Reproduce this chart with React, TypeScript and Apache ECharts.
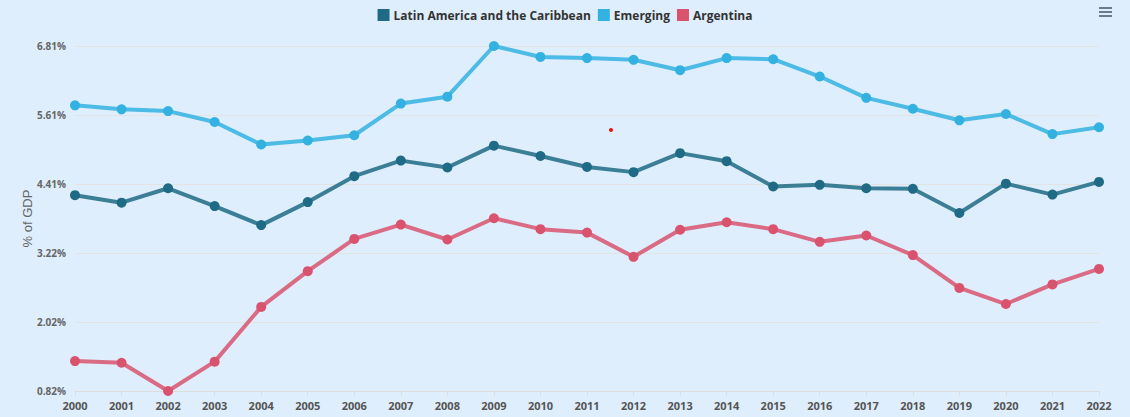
import React, { useEffect, useRef } from "react";
import * as echarts from "echarts";

const years = ["2000","2001","2002","2003","2004","2005","2006","2007","2008","2009","2010","2011","2012","2013","2014","2015","2016","2017","2018","2019","2020","2021","2022"];
const latam = [4.22,4.09,4.34,4.03,3.70,4.10,4.55,4.82,4.70,5.08,4.90,4.71,4.62,4.95,4.81,4.37,4.40,4.34,4.33,3.91,4.42,4.23,4.45];
const emerging = [5.78,5.71,5.68,5.49,5.10,5.17,5.26,5.81,5.93,6.81,6.62,6.60,6.57,6.39,6.60,6.58,6.28,5.91,5.72,5.52,5.63,5.28,5.40];
const argentina = [1.34,1.31,0.82,1.33,2.28,2.90,3.46,3.71,3.45,3.82,3.63,3.57,3.15,3.62,3.75,3.63,3.41,3.52,3.18,2.61,2.33,2.67,2.94];
const yMin = 0.82;
const yMax = 6.81;
const seriesNames = ["Latin America and the Caribbean", "Emerging", "Argentina"];
const colors = ["#1f6b85", "#33b1e0", "#d9536e"];

export default function App() {
  const ref = useRef<HTMLDivElement>(null);
  useEffect(() => {
    if (!ref.current) return;
    const chart = echarts.init(ref.current, null, { renderer: "svg" });
    const datasets = [latam, emerging, argentina];
    chart.setOption({
      animation: false,
      backgroundColor: "#dfeefc",
      legend: {
        top: 4,
        left: "center",
        itemWidth: 12,
        itemHeight: 12,
        itemGap: 7,
        icon: "rect",
        textStyle: { fontFamily: "Open Sans", fontWeight: "bold", fontSize: 12, color: "#333", padding: [0, 0, 0, -1] },
        data: seriesNames,
      },
      grid: { left: 75, right: 31, top: 46, bottom: 26 },
      xAxis: {
        type: "category",
        data: years,
        boundaryGap: false,
        axisLine: { lineStyle: { color: "#dddddd" } },
        axisTick: { show: true, length: 5, lineStyle: { color: "#dddddd" } },
        axisLabel: { fontFamily: "Open Sans", fontWeight: "bold", fontSize: 11, color: "#555", margin: 9, interval: 0 },
      },
      yAxis: {
        type: "value",
        min: yMin,
        max: yMax,
        interval: (yMax - yMin) / 5,
        name: "% of GDP",
        nameLocation: "middle",
        nameGap: 41,
        nameMoveOverlap: false,
        nameTextStyle: { fontFamily: "Liberation Sans", fontSize: 13, color: "#666" },
        axisLine: { show: false },
        axisTick: { show: false },
        splitLine: { lineStyle: { color: "#e3e3e3" } },
        axisLabel: {
          fontFamily: "Open Sans",
          fontWeight: "bold",
          fontSize: 10,
          color: "#666",
          margin: 9,
          verticalAlign: "middle",
          formatter: (v: number) => v.toFixed(2) + "%",
        },
      },
      series: datasets.map((d, i) => ({
        name: seriesNames[i],
        type: "line",
        data: d,
        symbol: "circle",
        symbolSize: 10,
        itemStyle: { color: colors[i] },
        lineStyle: { color: colors[i], width: 4, opacity: 0.85 },
      })),
      graphic: [
        { type: "rect", shape: { x: 1099, y: 7, width: 13, height: 2 }, style: { fill: "#6b7b88" } },
        { type: "rect", shape: { x: 1099, y: 11, width: 13, height: 2 }, style: { fill: "#6b7b88" } },
        { type: "rect", shape: { x: 1099, y: 15, width: 13, height: 2 }, style: { fill: "#6b7b88" } },
        { type: "circle", shape: { cx: 611, cy: 130, r: 2 }, style: { fill: "#ee1111" } },
      ],
    });
    return () => chart.dispose();
  }, []);
  return (
    <div
      ref={ref}
      style={{ position: "fixed", left: 0, top: 0, width: 1130, height: 417 }}
    />
  );
}
